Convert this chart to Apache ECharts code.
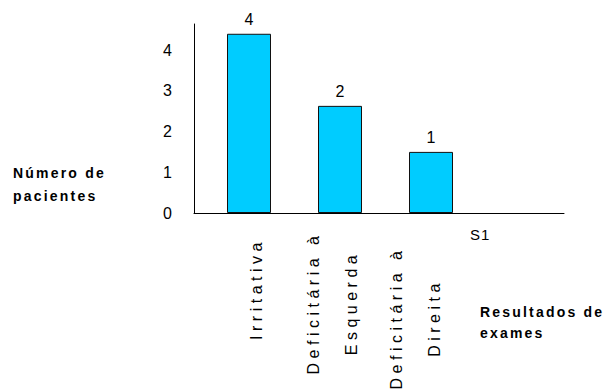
<!DOCTYPE html>
<html>
<head>
<meta charset="utf-8">
<script src="https://cdn.jsdelivr.net/npm/echarts@6/dist/echarts.min.js"></script>
<style>
  html, body { margin: 0; padding: 0; background: #fff; }
  #chart { width: 608px; height: 390px; }
  #chart text[style*="Arimo"] { letter-spacing: 4.5px; }
  #chart text[style*="bold"] { letter-spacing: 2.2px; }
  #chart text[style*="Tinos"] { letter-spacing: 1px; }
</style>
</head>
<body>
<div id="chart"></div>
<script>
// Data
const categories = ['Irritativa', 'Deficitária à\nEsquerda', 'Deficitária à\nDireita', ''];
const barHeights = [4.4, 2.63, 1.5, null];     // drawn bar heights on the y scale
const countLabels = ['4', '2', '1', ''];        // value labels printed above bars
const seriesName = 'S1';
const yTickMax = 4.64;
const yTickStep = 1;
const yAxisTitle = 'Número de\npacientes';
const xAxisTitle = 'Resultados de\nexames';

const FONT = "'Liberation Sans', Arial, sans-serif";
// per-category nudges of the rotated labels (style in the text's own frame)
const labelStyles = [
  { padding: [0, 0, 0, 28], align: 'center', verticalAlign: 'top', lineHeight: 32 },
  { padding: [0, 0, 0, 0], align: 'center', verticalAlign: 'middle' },
  { padding: [0, 30, -28, 0], align: 'center', verticalAlign: 'bottom' },
  { align: 'center', verticalAlign: 'middle' }
];

const chart = echarts.init(document.getElementById('chart'), null, { renderer: 'svg' });
chart.setOption({
  animation: false,
  backgroundColor: '#ffffff',
  grid: [
    { left: 203.5, right: 40.5, top: 24, bottom: 177, containLabel: false, outerBoundsMode: 'none' },
    { left: 194, right: 44, top: 24, bottom: 177, containLabel: false, outerBoundsMode: 'none' }
  ],
  legend: {
    data: [seriesName],
    left: 460, top: 222,
    icon: 'none', itemWidth: 0, itemHeight: 0, itemGap: 0,
    textStyle: { fontSize: 15, color: '#000', fontFamily: "'Liberation Sans', Tinos" },
    selectedMode: false
  },
  xAxis: [
    {
      type: 'category', gridIndex: 0,
      data: categories,
      axisLine: { show: false },
      axisTick: { show: false },
      axisLabel: { show: false }
    },
    {
      type: 'category', gridIndex: 1,
      data: categories.map((c, i) => ({ value: c, textStyle: labelStyles[i] })),
      axisLine: { lineStyle: { color: '#000', width: 1 } },
      axisTick: { show: false },
      axisLabel: {
        interval: 0,
        rotate: 90,
        align: 'center',
        verticalAlign: 'middle',
        margin: 90,
        lineHeight: 38,
        fontSize: 16,
        color: '#000',
        fontFamily: "'Liberation Sans', Arimo"
      }
    }
  ],
  yAxis: [
    {
      type: 'value', gridIndex: 0,
      min: 0, max: yTickMax, interval: yTickStep,
      offset: 9.5,
      axisLine: { show: true, lineStyle: { color: '#000', width: 1 } },
      axisTick: { show: false },
      splitLine: { show: false },
      axisLabel: {
        fontSize: 16, color: '#000', fontFamily: FONT, margin: 22,
        showMaxLabel: false
      }
    },
    {
      type: 'value', gridIndex: 1,
      min: 0, max: yTickMax, interval: yTickStep,
      show: false
    }
  ],
  graphic: [
    {
      type: 'text', left: 13, top: 161,
      style: { text: yAxisTitle, font: "bold 14px 'Liberation Sans'", fill: '#000', lineHeight: 23 }
    },
    {
      type: 'text', left: 480, top: 301,
      style: { text: xAxisTitle, font: "bold 14px 'Liberation Sans'", fill: '#000', lineHeight: 21 }
    }
  ],
  series: [{
    name: seriesName,
    type: 'bar',
    xAxisIndex: 0, yAxisIndex: 0,
    data: barHeights,
    barWidth: 44,
    itemStyle: { color: '#00CCFF', borderColor: '#111', borderWidth: 1 },
    label: {
      show: true,
      position: 'top',
      distance: 6,
      fontSize: 16,
      color: '#000',
      fontFamily: FONT,
      formatter: p => countLabels[p.dataIndex]
    }
  }]
});
</script>
</body>
</html>
